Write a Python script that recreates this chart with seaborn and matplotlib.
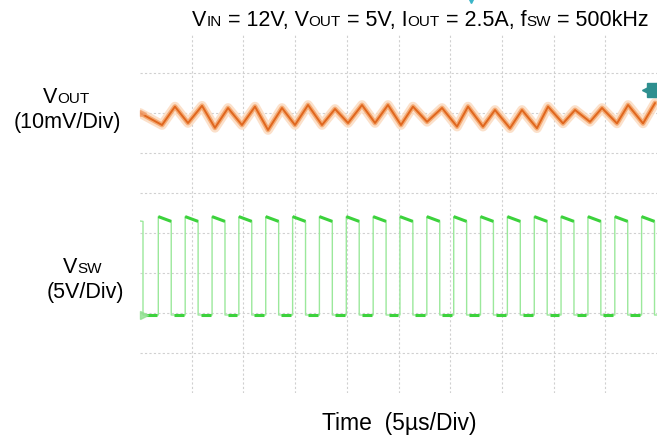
import numpy as np
import pandas as pd
import matplotlib
matplotlib.use("Agg")
import matplotlib.pyplot as plt
import seaborn as sns

# ---- data read off the scope shot ----
# switching node: edge times (us), levels (V)
sw_fall_first = 0.29
sw_rise = [1.77, 4.37, 6.97, 9.56, 12.16, 14.76, 17.35, 19.95, 22.55, 25.14,
           27.74, 30.34, 32.93, 35.53, 38.13, 40.72, 43.32, 45.92, 48.51]
sw_fall = [3.02, 5.62, 8.22, 10.81, 13.41, 16.01, 18.60, 21.20, 23.80, 26.39,
           28.99, 31.59, 34.18, 36.78, 39.38, 41.97, 44.57, 47.17, 49.76]
sw_high_start = 12.3
sw_high_end = 11.7
sw_low = 0.0

# output ripple: triangle vertices (us, mV around the marker level)
vout_peak_t = [3.38, 6.00, 8.51, 11.12, 13.73, 16.25, 18.86, 21.47, 23.98, 26.40,
               29.21, 31.72, 34.33, 36.94, 39.46, 42.07, 44.68, 47.20, 49.81]
vout_peak_mv = [1.6, 1.8, 1.25, 1.6, 1.25, 2.0, 1.0, 2.0, 2.0, 1.6,
                1.25, 1.6, 0.75, 0.75, 1.6, 0.75, 1.25, 2.0, 2.5]
vout_trough_t = [2.13, 4.64, 7.25, 9.86, 12.38, 14.99, 17.60, 20.12, 22.73, 25.24,
                 27.76, 30.66, 33.17, 35.78, 38.39, 40.91, 43.52, 46.13, 48.65]
vout_trough_mv = [-3.0, -2.5, -3.7, -3.0, -4.25, -3.0, -3.0, -2.5, -2.5, -3.0,
                  -2.2, -3.4, -3.4, -3.8, -3.8, -2.6, -2.2, -2.6, -2.6]
vout_start = (0.0, 0.0)

# scope settings
t_div = 5.0       # us/div
vout_div = 10.0   # mV/div
vsw_div = 5.0     # V/div
vout_pos = 7.0    # div
vsw_pos = 1.95    # div
n_xdiv, n_ydiv = 10, 9

W, H = 657, 442
sns.set_style("white")
plt.rcParams["font.family"] = ["Liberation Sans", "DejaVu Sans"]

fig = plt.figure(figsize=(W / 100, H / 100), dpi=100)
ax = fig.add_axes([140 / W, (H - 393) / H, 517 / W, 360 / H])

# build vout trace
vt = [vout_start[0]] + vout_trough_t + vout_peak_t
vv = [vout_start[1]] + vout_trough_mv + vout_peak_mv
vout = pd.DataFrame({"t": vt, "mv": vv}).sort_values("t")
vout["div"] = vout_pos + vout["mv"] / vout_div
vout["x"] = vout["t"] / t_div

# build switch-node trace
pts = [(0.0, sw_high_end + 0.05), (sw_fall_first, sw_high_end), (sw_fall_first, sw_low)]
for r, f in zip(sw_rise, sw_fall):
    pts += [(r, sw_low), (r, sw_high_start), (f, sw_high_end), (f, sw_low)]
pts.append((50.0, sw_low))
sw = pd.DataFrame(pts, columns=["t", "v"])
sw["div"] = vsw_pos + sw["v"] / vsw_div
sw["x"] = sw["t"] / t_div

# grid
for i in range(1, n_xdiv):
    ax.axvline(i, color="#d0d0d0", lw=0.8, ls=(0, (2, 2)), zorder=0)
for j in range(1, n_ydiv):
    ax.axhline(j, color="#d0d0d0", lw=0.8, ls=(0, (2, 2)), zorder=0)

# switch node: faint edges, bright levels
sns.lineplot(data=sw, x="x", y="div", ax=ax, color="#9be89b", lw=1.0,
             sort=False, estimator=None, zorder=2)
hi = []
lo = []
for r, f in zip(sw_rise, sw_fall):
    hi.append(pd.DataFrame({"x": [r / t_div, f / t_div],
                            "div": [vsw_pos + sw_high_start / vsw_div,
                                    vsw_pos + sw_high_end / vsw_div]}))
prev = [sw_fall_first] + sw_fall[:-1]
for f, r in zip(prev, sw_rise):
    lo.append(pd.DataFrame({"x": [f / t_div + 0.05, r / t_div - 0.03],
                            "div": [vsw_pos, vsw_pos]}))
for seg in hi + lo:
    ax.plot(seg["x"], seg["div"], color="#3cd23c", lw=2.2, solid_capstyle="butt", zorder=3)

# vout ripple with fuzzy halo
sns.lineplot(data=vout, x="x", y="div", ax=ax, color="#fbd9bd", lw=7, alpha=0.8,
             sort=False, estimator=None, zorder=4)
sns.lineplot(data=vout, x="x", y="div", ax=ax, color="#f4a66d", lw=3.5, alpha=0.9,
             sort=False, estimator=None, zorder=4)
sns.lineplot(data=vout, x="x", y="div", ax=ax, color="#e0671e", lw=1.4,
             sort=False, estimator=None, zorder=5)

# channel / trigger markers
ax.plot([0.06], [vout_pos], marker=">", ms=5, color="#f0a070", alpha=0.7, clip_on=False, zorder=6)
ax.plot([0.08], [vsw_pos], marker=">", ms=6, color="#8fe08f", alpha=0.8, clip_on=False, zorder=6)
ax.plot([9.85], [7.58], marker="<", ms=10, color="#2e8f8f", clip_on=False, zorder=6)
ax.plot([9.95], [7.58], marker="s", ms=10, color="#2e8f8f", clip_on=False, zorder=6)
ax.plot([6.4], [9.85], marker="v", ms=6, color="#3ab5c8", clip_on=False, zorder=6)

ax.set_xlim(0, n_xdiv)
ax.set_ylim(0, n_ydiv)
ax.set_xticks([])
ax.set_yticks([])
ax.set_xlabel("")
ax.set_ylabel("")
sns.despine(ax=ax, left=True, bottom=True)

# rich text with small-caps style subscripts
renderer = fig.canvas.get_renderer()
BIG, SMALL = 15.5, 11


def rich(parts, x, y, ha="left"):
    txts = []
    widths = []
    for s, size in parts:
        t = fig.text(0, 1 - y / H, s, fontsize=size, va="baseline", ha="left", color="black")
        widths.append(t.get_window_extent(renderer).width)
        txts.append(t)
    total = sum(widths)
    x0 = x if ha == "left" else x - total / 2
    for t, w in zip(txts, widths):
        t.set_x(x0 / W)
        x0 += w


rich([("V", BIG), ("IN", SMALL), (" = 12V, V", BIG), ("OUT", SMALL), (" = 5V, I", BIG),
      ("OUT", SMALL), (" = 2.5A, f", BIG), ("SW", SMALL), (" = 500kHz", BIG)], 192, 26)
rich([("V", BIG), ("OUT", SMALL)], 66.5, 103, ha="center")
rich([("(10mV/Div)", BIG)], 67, 128, ha="center")
rich([("V", BIG), ("SW", SMALL)], 82, 273, ha="center")
rich([("(5V/Div)", BIG)], 85, 298, ha="center")
rich([("Time  (5µs/Div)", 16.5)], 399, 430, ha="center")

fig.savefig("out.png", dpi=100)
